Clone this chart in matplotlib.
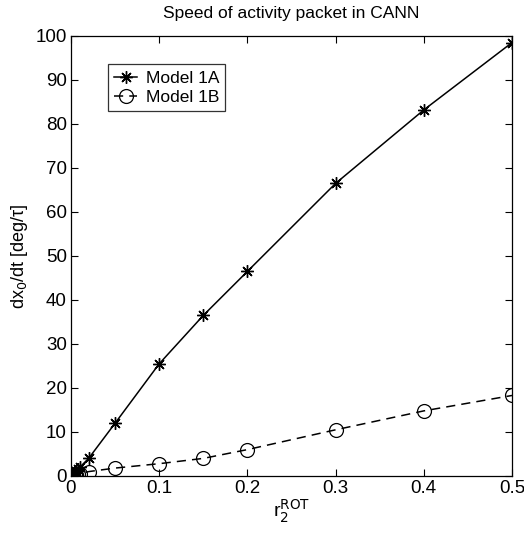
import matplotlib
matplotlib.use("Agg")
import matplotlib.pyplot as plt

plt.rcParams['font.family'] = ['Liberation Sans', 'DejaVu Sans']

r2 = [0, 0.002, 0.004, 0.006, 0.008, 0.01, 0.02, 0.05, 0.1, 0.15, 0.2, 0.3, 0.4, 0.5]
model_1a = [0, 0.4, 0.8, 1.2, 1.6, 2.0, 4.0, 12.0, 25.5, 36.5, 46.5, 66.5, 83.2, 98.5]
model_1b = [0, 0.1, 0.2, 0.3, 0.4, 0.5, 1.0, 1.8, 2.8, 4.0, 6.0, 10.5, 14.8, 18.3]

fig = plt.figure(figsize=(5.24, 5.35), dpi=100)
ax = fig.add_axes([71/524, 59/535, 441/524, 440/535])

ax.plot(r2, model_1a, 'k-', marker=(8, 2, 0), markersize=9, linewidth=1.1,
        markeredgewidth=1.0, label='Model 1A')
ax.plot(r2, model_1b, 'k--', marker='o', markersize=10, markerfacecolor='none',
        linewidth=1.1, markeredgewidth=0.9, dashes=(6, 4), label='Model 1B')

ax.set_xlim(0, 0.5)
ax.set_ylim(0, 100)
ax.set_xticks([0, 0.1, 0.2, 0.3, 0.4, 0.5])
ax.set_xticklabels(['0', '0.1', '0.2', '0.3', '0.4', '0.5'])
ax.set_yticks(range(0, 101, 10))
ax.tick_params(direction='in', top=True, right=True, labelsize=13.5, length=5, pad=3)
for s in ax.spines.values():
    s.set_linewidth(0.9)

ax.set_title('Speed of activity packet in CANN', fontsize=12.5, pad=13)
ax.set_xlabel(r'r$_2^{\mathrm{ROT}}$', fontsize=14, labelpad=0)
ax.set_ylabel('dx$_0$/dt [deg/τ]', fontsize=13, labelpad=4)

leg = ax.legend(loc='upper left', bbox_to_anchor=(0.065, 0.955), fontsize=12.5,
                frameon=True, fancybox=False, edgecolor='black', handlelength=1.3,
                borderpad=0.35, labelspacing=0.25, handletextpad=0.5)
leg.get_frame().set_linewidth(0.9)

fig.savefig('out.png', dpi=100)
